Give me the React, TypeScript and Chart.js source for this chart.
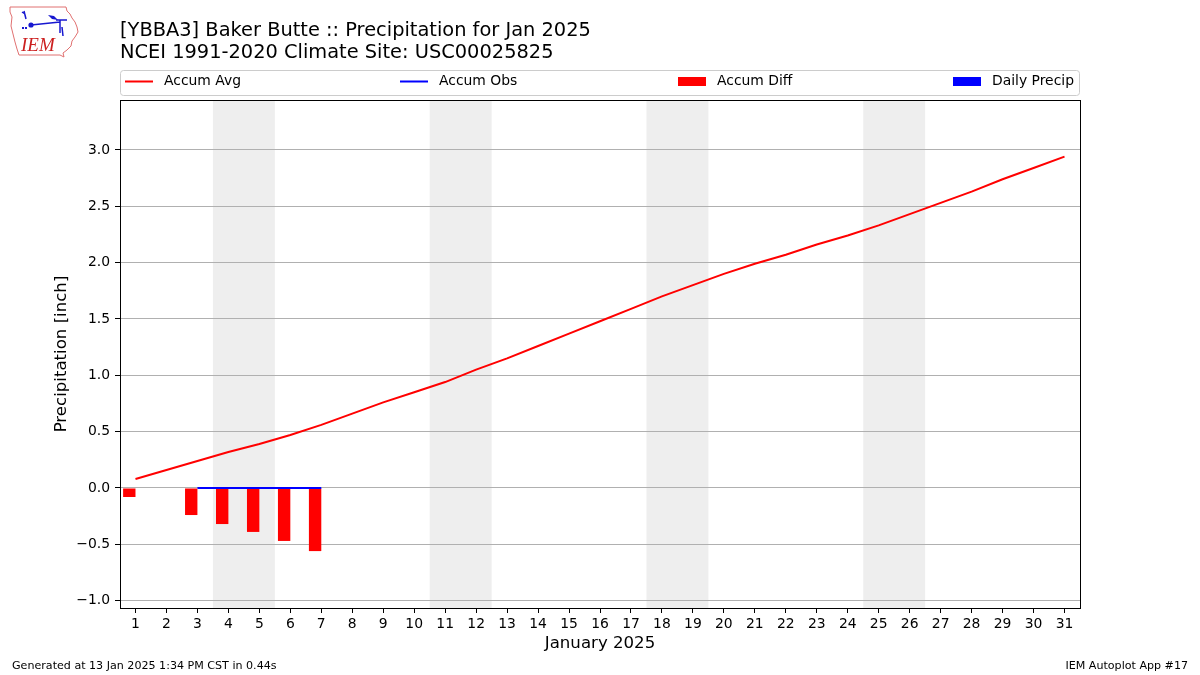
import React, { useEffect, useRef } from "react";
import { Chart, registerables } from "chart.js";

Chart.register(...registerables);

// ---------------- data ----------------
const dayTicks = [1, 2, 3, 4, 5, 6, 7, 8, 9, 10, 11, 12, 13, 14, 15, 16, 17, 18, 19, 20, 21, 22, 23, 24, 25, 26, 27, 28, 29, 30, 31];
const accumAvg = [0.08, 0.16, 0.24, 0.32, 0.39, 0.47, 0.56, 0.66, 0.76, 0.85, 0.94, 1.05, 1.15, 1.26, 1.37, 1.48, 1.59, 1.70, 1.80, 1.90, 1.99, 2.07, 2.16, 2.24, 2.33, 2.43, 2.53, 2.63, 2.74, 2.84, 2.94];
const obsDays = [1, 2, 3, 4, 5, 6, 7];
const accumObs = [0, null, 0, 0, 0, 0, 0];
const accumDiff = [-0.08, null, -0.24, -0.32, -0.39, -0.47, -0.56];
const dailyPrecip = [0, null, 0, 0, 0, 0, 0];
const weekendStarts = [4, 11, 18, 25];
const yTicks = [-1.0, -0.5, 0.0, 0.5, 1.0, 1.5, 2.0, 2.5, 3.0];
const seriesLabels = ["Accum Avg", "Accum Obs", "Accum Diff", "Daily Precip"];
const titleLines = ["[YBBA3] Baker Butte :: Precipitation for Jan 2025", "NCEI 1991-2020 Climate Site: USC00025825"];
const xTitle = "January 2025";
const yTitle = "Precipitation [inch]";
const footerLeft = "Generated at 13 Jan 2025 1:34 PM CST in 0.44s";
const footerRight = "IEM Autoplot App #17";

const FONT = '"DejaVu Sans", sans-serif';

function drawLogo(ctx: CanvasRenderingContext2D) {
  ctx.save();
  ctx.strokeStyle = "#e07070";
  ctx.lineWidth = 1;
  const pts = [[10, 7], [66, 7], [67, 11], [70, 14], [72, 18], [75, 22], [77, 27], [78, 32], [75, 37], [72, 41], [71, 46], [67, 50], [63, 53], [64, 57], [60, 55], [19, 55], [17, 49], [15, 42], [13, 34], [11, 26], [12, 17], [10, 12]];
  ctx.beginPath();
  pts.forEach((p, i) => (i === 0 ? ctx.moveTo(p[0], p[1]) : ctx.lineTo(p[0], p[1])));
  ctx.closePath();
  ctx.stroke();
  ctx.strokeStyle = "#1818d0";
  ctx.fillStyle = "#1818d0";
  ctx.lineWidth = 1.5;
  ctx.beginPath();
  ctx.moveTo(31, 25);
  ctx.lineTo(60, 22);
  ctx.moveTo(60, 20);
  ctx.lineTo(60, 33);
  ctx.moveTo(62, 27);
  ctx.lineTo(63, 36);
  ctx.moveTo(56, 20);
  ctx.lineTo(67, 20);
  ctx.moveTo(24, 11);
  ctx.lineTo(26, 19);
  ctx.moveTo(22, 12);
  ctx.lineTo(25, 14);
  ctx.stroke();
  ctx.beginPath();
  ctx.arc(31, 25, 2.6, 0, Math.PI * 2);
  ctx.fill();
  ctx.beginPath();
  ctx.moveTo(48, 15);
  ctx.lineTo(54, 16);
  ctx.lineTo(58, 20);
  ctx.lineTo(52, 19);
  ctx.closePath();
  ctx.fill();
  ctx.fillRect(22, 27, 2, 2);
  ctx.fillRect(25, 27, 2, 2);
  ctx.fillStyle = "#cc2020";
  ctx.font = 'italic 19px "Liberation Serif", serif';
  ctx.textBaseline = "alphabetic";
  ctx.textAlign = "left";
  ctx.fillText("IEM", 21, 51);
  ctx.restore();
}

const decorPlugin = {
  id: "decor",
  beforeDraw(chart: any) {
    const { ctx, chartArea } = chart;
    const x = chart.scales.x;
    ctx.save();
    ctx.fillStyle = "#eeeeee";
    weekendStarts.forEach((d) => {
      const x0 = x.getPixelForValue(d - 0.5);
      const x1 = x.getPixelForValue(d + 1.5);
      ctx.fillRect(x0, chartArea.top, x1 - x0, chartArea.bottom - chartArea.top);
    });
    ctx.restore();
  },
  afterDraw(chart: any) {
    const { ctx, chartArea } = chart;
    ctx.save();
    // frame
    ctx.strokeStyle = "#000";
    ctx.lineWidth = 1;
    ctx.strokeRect(chartArea.left + 0.5, chartArea.top + 0.5, chartArea.right - chartArea.left, chartArea.bottom - chartArea.top);

    // titles
    ctx.fillStyle = "#000";
    ctx.textAlign = "left";
    ctx.textBaseline = "alphabetic";
    ctx.font = `19.4px ${FONT}`;
    ctx.fillText(titleLines[0], 120, 36);
    ctx.fillText(titleLines[1], 120, 58);

    // axis titles
    ctx.font = `16.6px ${FONT}`;
    ctx.textAlign = "center";
    ctx.textBaseline = "middle";
    ctx.fillText(xTitle, (chartArea.left + chartArea.right) / 2, 644);
    ctx.save();
    ctx.translate(62, (chartArea.top + chartArea.bottom) / 2);
    ctx.rotate(-Math.PI / 2);
    ctx.fillText(yTitle, 0, 0);
    ctx.restore();

    // legend
    const lx = 120.5, ly = 70.5, lw = 959, lh = 25, r = 3;
    ctx.beginPath();
    ctx.moveTo(lx + r, ly);
    ctx.lineTo(lx + lw - r, ly);
    ctx.quadraticCurveTo(lx + lw, ly, lx + lw, ly + r);
    ctx.lineTo(lx + lw, ly + lh - r);
    ctx.quadraticCurveTo(lx + lw, ly + lh, lx + lw - r, ly + lh);
    ctx.lineTo(lx + r, ly + lh);
    ctx.quadraticCurveTo(lx, ly + lh, lx, ly + lh - r);
    ctx.lineTo(lx, ly + r);
    ctx.quadraticCurveTo(lx, ly, lx + r, ly);
    ctx.closePath();
    ctx.fillStyle = "rgba(255,255,255,0.8)";
    ctx.fill();
    ctx.strokeStyle = "#cccccc";
    ctx.stroke();

    const entries = [
      { kind: "line", color: "#ff0000", x: 125, tx: 164 },
      { kind: "line", color: "#0000ff", x: 400, tx: 439 },
      { kind: "patch", color: "#ff0000", x: 678, tx: 717 },
      { kind: "patch", color: "#0000ff", x: 953, tx: 992 },
    ];
    const cy = 81.5;
    entries.forEach((e, i) => {
      if (e.kind === "line") {
        ctx.strokeStyle = e.color;
        ctx.lineWidth = 2;
        ctx.beginPath();
        ctx.moveTo(e.x, cy);
        ctx.lineTo(e.x + 28, cy);
        ctx.stroke();
      } else {
        ctx.fillStyle = e.color;
        ctx.fillRect(e.x, cy - 4.5, 28, 9);
      }
      ctx.fillStyle = "#000";
      ctx.font = `13.9px ${FONT}`;
      ctx.textAlign = "left";
      ctx.textBaseline = "middle";
      ctx.fillText(seriesLabels[i], e.tx, cy);
    });

    // footer
    ctx.font = `11.1px ${FONT}`;
    ctx.fillStyle = "#000";
    ctx.textBaseline = "middle";
    ctx.textAlign = "left";
    ctx.fillText(footerLeft, 12, 666);
    ctx.textAlign = "right";
    ctx.fillText(footerRight, 1188, 666);

    drawLogo(ctx);
    ctx.restore();
  },
};

export default function App() {
  const canvasRef = useRef<HTMLCanvasElement | null>(null);

  useEffect(() => {
    if (!canvasRef.current) return;
    const chart = new Chart(canvasRef.current, {
      type: "line",
      data: {
        datasets: [
          {
            type: "line",
            label: seriesLabels[0],
            data: dayTicks.map((d, i) => ({ x: d, y: accumAvg[i] })),
            borderColor: "#ff0000",
            backgroundColor: "#ff0000",
            borderWidth: 2,
            pointRadius: 0,
            tension: 0,
          },
          {
            type: "line",
            label: seriesLabels[1],
            data: obsDays.map((d, i) => ({ x: d, y: accumObs[i] })),
            borderColor: "#0000ff",
            backgroundColor: "#0000ff",
            borderWidth: 2.2,
            pointRadius: 0,
            tension: 0,
            spanGaps: false,
          },
          {
            type: "bar",
            label: seriesLabels[2],
            data: obsDays.map((d, i) => ({ x: d, y: accumDiff[i] })),
            backgroundColor: "#ff0000",
            borderWidth: 0,
            categoryPercentage: 0.8,
            barPercentage: 1.0,
          },
          {
            type: "bar",
            label: seriesLabels[3],
            data: obsDays.map((d, i) => ({ x: d, y: dailyPrecip[i] })),
            backgroundColor: "#0000ff",
            borderWidth: 0,
            categoryPercentage: 0.8,
            barPercentage: 1.0,
          },
        ] as any,
      },
      options: {
        responsive: false,
        animation: false,
        devicePixelRatio: 1,
        layout: { padding: { left: 0, right: 120, top: 100, bottom: 0 } },
        plugins: {
          legend: { display: false },
          title: { display: false },
          tooltip: { enabled: false },
        },
        scales: {
          x: {
            type: "linear",
            min: 0.5,
            max: 31.5,
            offset: false,
            afterFit: (s: any) => {
              s.height = 67;
            },
            afterBuildTicks: (s: any) => {
              s.ticks = dayTicks.map((v) => ({ value: v }));
            },
            border: { display: false },
            grid: {
              display: true,
              drawOnChartArea: false,
              drawTicks: true,
              tickLength: 5,
              tickColor: "#000",
              offset: false,
            },
            ticks: {
              autoSkip: false,
              maxRotation: 0,
              padding: 3,
              color: "#000",
              font: { family: FONT, size: 13.9 },
              callback: (v: any) => String(v),
            },
          },
          y: {
            type: "linear",
            min: -1.065,
            max: 3.443,
            afterFit: (s: any) => {
              s.width = 120;
            },
            afterBuildTicks: (s: any) => {
              s.ticks = yTicks.map((v) => ({ value: v }));
            },
            border: { display: false },
            grid: {
              display: true,
              color: "#b0b0b0",
              lineWidth: 1,
              drawTicks: true,
              tickLength: 5,
              tickColor: "#000",
            },
            ticks: {
              padding: 5,
              color: "#000",
              font: { family: FONT, size: 13.9 },
              callback: (v: any) => Number(v).toFixed(1).replace("-", "\u2212"),
            },
          },
        },
      } as any,
      plugins: [decorPlugin],
    });
    return () => chart.destroy();
  }, []);

  return (
    <div style={{ position: "absolute", left: 0, top: 0, width: 1200, height: 675, background: "#fff" }}>
      <canvas ref={canvasRef} width={1200} height={675} />
    </div>
  );
}
